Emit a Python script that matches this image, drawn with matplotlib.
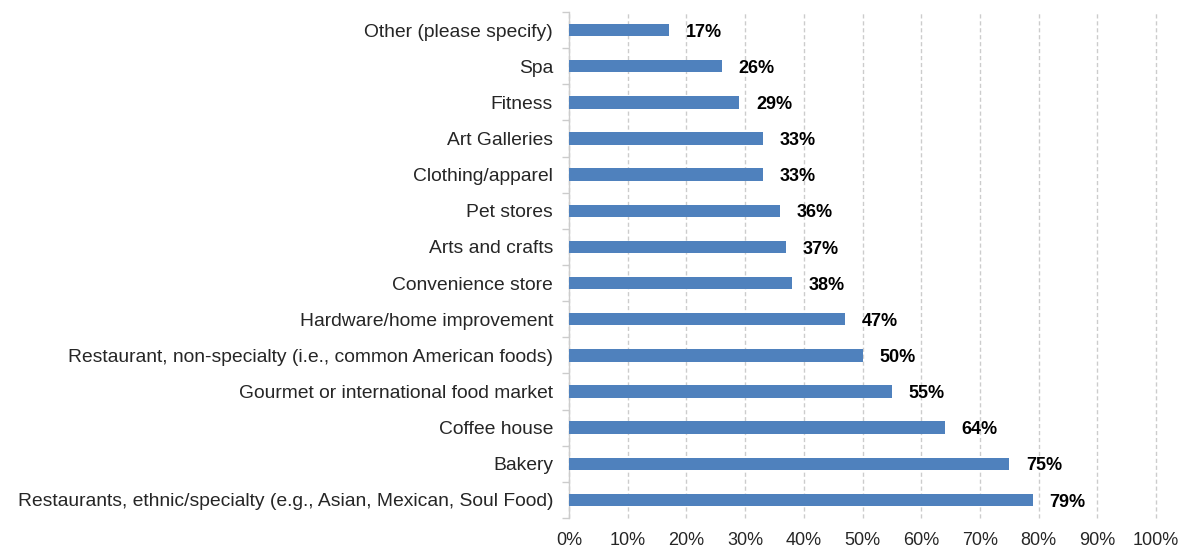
import matplotlib
matplotlib.use("Agg")
import matplotlib.pyplot as plt
from matplotlib.ticker import MultipleLocator, FixedLocator, PercentFormatter

plt.rcParams['font.family'] = ['Liberation Sans', 'DejaVu Sans']

categories = [
    "Restaurants, ethnic/specialty (e.g., Asian, Mexican, Soul Food)",
    "Bakery",
    "Coffee house",
    "Gourmet or international food market",
    "Restaurant, non-specialty (i.e., common American foods)",
    "Hardware/home improvement",
    "Convenience store",
    "Arts and crafts",
    "Pet stores",
    "Clothing/apparel",
    "Art Galleries",
    "Fitness",
    "Spa",
    "Other (please specify)",
]
values = [79, 75, 64, 55, 50, 47, 38, 37, 36, 33, 33, 29, 26, 17]

BAR = "#4F81BD"
GRID = "#CCCCCC"
TEXT = "#262626"

fig = plt.figure(figsize=(11.81, 5.5), dpi=100)
ax = fig.add_axes([569 / 1181, 32 / 550, 587 / 1181, 506 / 550])

ypos = list(range(len(categories)))
ax.barh(ypos, values, height=0.34, color=BAR, zorder=3)

# bold value labels just right of each bar
for y, v in zip(ypos, values):
    ax.annotate(f"{v}%", (v, y), xytext=(12, -1.5), textcoords="offset points",
                ha="left", va="center", fontsize=13, fontweight="bold",
                color="black")

ax.set_xlim(0, 100)
ax.set_ylim(-0.5, len(categories) - 0.5)
ax.xaxis.set_major_locator(MultipleLocator(10))
ax.xaxis.set_major_formatter(PercentFormatter(decimals=0))
ax.set_yticks(ypos)
ax.set_yticklabels(categories)
ax.yaxis.set_minor_locator(FixedLocator([i - 0.5 for i in range(len(categories) + 1)]))

ax.grid(axis="x", color=GRID, linestyle=(0, (3, 2)), linewidth=1.0, zorder=0)
for gl in ax.get_xgridlines():
    gl.set_clip_on(False)
for side in ("top", "right", "bottom"):
    ax.spines[side].set_visible(False)
ax.spines["left"].set_color(GRID)
ax.spines["left"].set_linewidth(1.0)

ax.tick_params(axis="y", which="major", length=0, pad=11.5, labelsize=13.9, labelcolor=TEXT)
ax.tick_params(axis="y", which="minor", length=5, color=GRID, width=1.0)
ax.tick_params(axis="x", length=0, pad=10, labelsize=13, labelcolor=TEXT)

fig.savefig("out.png", dpi=100, facecolor="white")
